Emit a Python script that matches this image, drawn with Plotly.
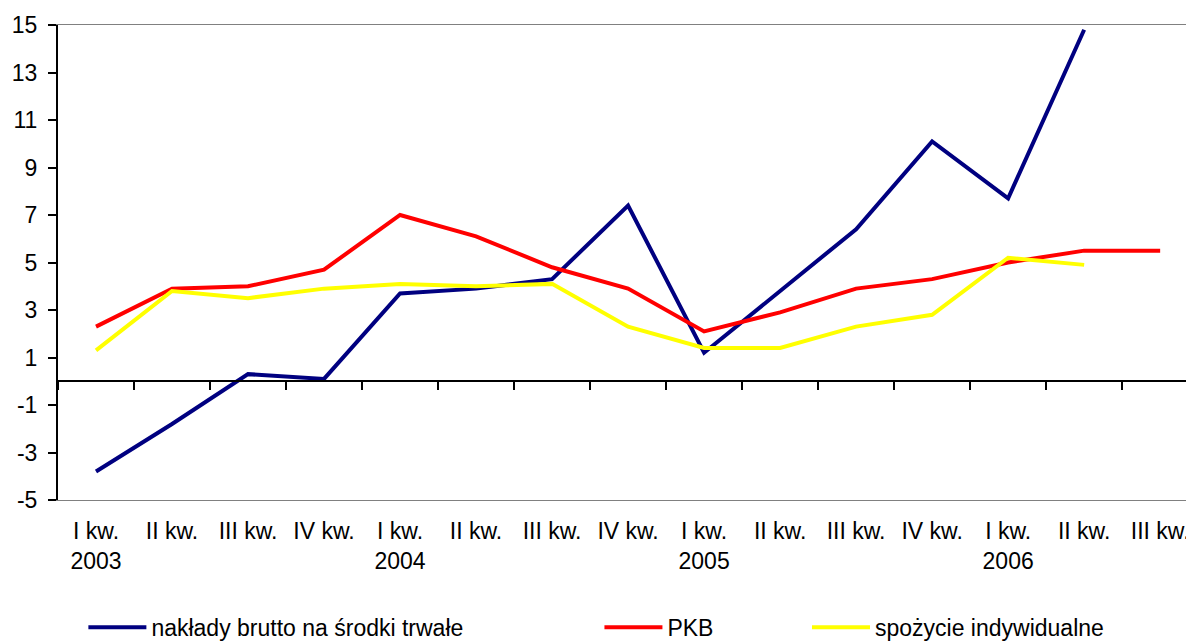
import plotly.graph_objects as go

quarters = ["I kw.<br>2003", "II kw.", "III kw.", "IV kw.",
            "I kw.<br>2004", "II kw.", "III kw.", "IV kw.",
            "I kw.<br>2005", "II kw.", "III kw.", "IV kw.",
            "I kw.<br>2006", "II kw.", "III kw."]

naklady = [-3.8, -1.8, 0.3, 0.1, 3.7, 3.9, 4.3, 7.4, 1.2, 3.8, 6.4, 10.1, 7.7, 14.8]
pkb = [2.3, 3.9, 4.0, 4.7, 7.0, 6.1, 4.8, 3.9, 2.1, 2.9, 3.9, 4.3, 5.0, 5.5, 5.5]
spozycie = [1.3, 3.8, 3.5, 3.9, 4.1, 4.0, 4.1, 2.3, 1.4, 1.4, 2.3, 2.8, 5.2, 4.9]

y_ticks = list(range(-5, 16, 2))
y_labels = [str(v) for v in y_ticks]

FONT = "Liberation Sans, Arial, sans-serif"

fig = go.Figure()
series = [
    ("nakłady brutto na środki trwałe", naklady, "#000080", "legend"),
    ("PKB", pkb, "#ff0000", "legend2"),
    ("spożycie indywidualne", spozycie, "#ffff00", "legend3"),
]
for name, vals, color, lg in series:
    fig.add_trace(go.Scatter(
        x=list(range(len(vals))), y=vals,
        name=name, mode="lines",
        line=dict(color=color, width=4),
        legend=lg,
    ))

# pusty ślad, żeby oś x2 (linia zera z kreskami) została narysowana
fig.add_trace(go.Scatter(x=[], y=[], xaxis="x2", yaxis="y",
                         showlegend=False, hoverinfo="skip"))

leg = dict(orientation="h", yanchor="middle", y=-0.268, xanchor="left",
           font=dict(family=FONT, size=23, color="#000"),
           bgcolor="rgba(0,0,0,0)", itemwidth=58)

fig.update_layout(
    width=1186, height=641,
    paper_bgcolor="white", plot_bgcolor="white",
    margin=dict(l=58, r=0, t=25, b=141, autoexpand=False),
    font=dict(family=FONT, color="#000"),
    showlegend=True,
    legend=dict(**leg, x=0.0225),
    legend2=dict(**leg, x=0.480),
    legend3=dict(**leg, x=0.664),
    xaxis=dict(
        range=[-0.5, 14.34],
        tickmode="array",
        tickvals=list(range(len(quarters))),
        ticktext=quarters,
        tickfont=dict(family=FONT, size=23, color="#000"),
        ticks="", showgrid=False, zeroline=False,
        showline=True, linecolor="#808080", linewidth=1, mirror=True,
        ticklabelstandoff=10, ticklabeloverflow="allow",
        automargin=False,
    ),
    xaxis2=dict(
        overlaying="x", matches="x", anchor="free", position=0.25,
        tickmode="array",
        tickvals=[i - 0.5 for i in range(len(quarters) + 1)],
        showticklabels=False,
        ticks="outside", ticklen=8, tickwidth=2, tickcolor="#000",
        showline=True, linecolor="#000", linewidth=2,
        showgrid=False, zeroline=False,
    ),
    yaxis=dict(
        range=[-5, 15],
        tickmode="array", tickvals=y_ticks, ticktext=y_labels,
        tickfont=dict(family=FONT, size=23, color="#000"),
        ticks="outside", ticklen=8, tickwidth=2, tickcolor="#000",
        showline=True, linecolor="#000", linewidth=2,
        showgrid=False, zeroline=False,
        ticklabelstandoff=6, automargin=False,
    ),
)

fig.write_html("out.html", config={"displayModeBar": False},
               post_script="document.body.style.margin='0';")
